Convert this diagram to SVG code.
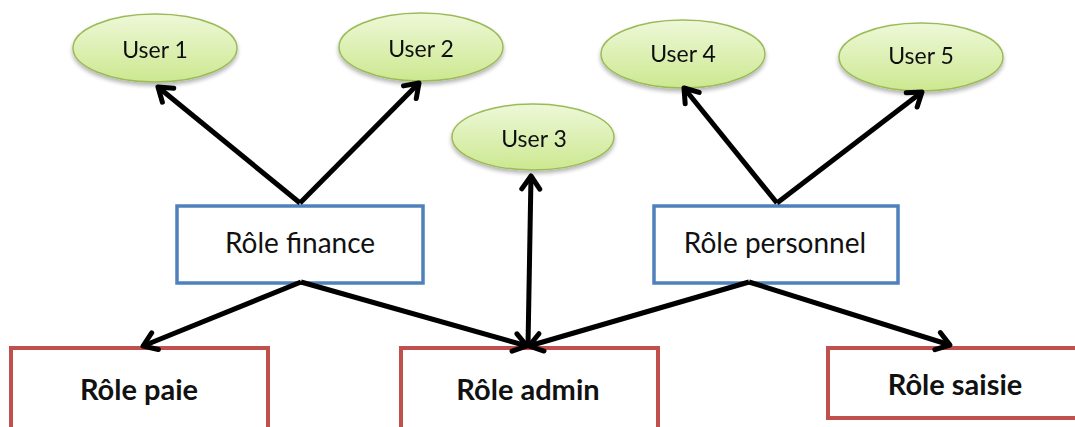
<svg xmlns="http://www.w3.org/2000/svg" width="1075" height="427" viewBox="0 0 1075 427">
<style>
.user ellipse{fill:url(#g);stroke:#9BBB59;stroke-width:1.5}
.ut{font-family:Lato,"Open Sans",sans-serif;font-size:23px;fill:#111;text-anchor:middle}
.blue{fill:#fff;stroke:#4F81BD;stroke-width:3.5}
.red{fill:#fff;stroke:#C0504D;stroke-width:4}
.rt{font-family:Lato,"Open Sans",sans-serif;font-size:28px;fill:#111;text-anchor:middle}
.rb{font-family:Lato,"Open Sans",sans-serif;font-size:29px;font-weight:bold;fill:#111;text-anchor:middle}
.c line{stroke:#000;stroke-width:5;marker-end:url(#a)}
</style>
<defs>
<linearGradient id="g" x1="0" y1="0" x2="0" y2="1">
<stop offset="0" stop-color="#EEF8D8"/>
<stop offset="1" stop-color="#CCE890"/>
</linearGradient>
<filter id="sh" x="-20%" y="-20%" width="140%" height="150%">
<feGaussianBlur in="SourceAlpha" stdDeviation="2"/>
<feOffset dy="3"/>
<feComponentTransfer><feFuncA type="linear" slope="0.3"/></feComponentTransfer>
<feMerge><feMergeNode/><feMergeNode in="SourceGraphic"/></feMerge>
</filter>
<marker id="a" viewBox="-16 -12 19 24" markerWidth="19" markerHeight="24" refX="0" refY="0" orient="auto" markerUnits="userSpaceOnUse">
<path d="M-13,-9 L0,0 L-13,9" fill="none" stroke="#000" stroke-width="5" stroke-linecap="round" stroke-linejoin="round"/>
</marker>
</defs>
<g id="user1" class="user" filter="url(#sh)"><ellipse cx="155" cy="48" rx="82" ry="34"/><text class="ut" x="155" y="58">User 1</text></g>
<g id="user2" class="user" filter="url(#sh)"><ellipse cx="421" cy="47" rx="82" ry="34"/><text class="ut" x="421" y="57">User 2</text></g>
<g id="user3" class="user" filter="url(#sh)"><ellipse cx="533" cy="137" rx="81" ry="33"/><text class="ut" x="534" y="147">User 3</text></g>
<g id="user4" class="user" filter="url(#sh)"><ellipse cx="683" cy="54" rx="82" ry="34"/><text class="ut" x="683" y="62">User 4</text></g>
<g id="user5" class="user" filter="url(#sh)"><ellipse cx="921" cy="57" rx="82" ry="34"/><text class="ut" x="921" y="64">User 5</text></g>
<g id="role-finance"><rect class="blue" x="177" y="206" width="246" height="77"/><text class="rt" x="300" y="253">Rôle finance</text></g>
<g id="role-personnel"><rect class="blue" x="654" y="206" width="244" height="77"/><text class="rt" x="775" y="253">Rôle personnel</text></g>
<g id="role-paie"><rect class="red" x="11" y="348" width="257" height="100"/><text class="rb" x="139" y="400">Rôle paie</text></g>
<g id="role-admin"><rect class="red" x="401" y="348" width="257" height="100"/><text class="rb" x="528" y="400">Rôle admin</text></g>
<g id="role-saisie"><rect class="red" x="828" y="348" width="260" height="70"/><text class="rb" x="955" y="395">Rôle saisie</text></g>
<g id="connectors" class="c">
<line x1="300" y1="203" x2="158" y2="87"/>
<line x1="300" y1="203" x2="419" y2="83"/>
<line x1="777" y1="203" x2="684" y2="88"/>
<line x1="777" y1="203" x2="922" y2="92"/>
<line x1="528" y1="346" x2="531" y2="176"/>
<line x1="301" y1="282" x2="143" y2="346"/>
<line x1="301" y1="282" x2="527" y2="346"/>
<line x1="749" y1="282" x2="529" y2="346"/>
<line x1="749" y1="282" x2="950" y2="345"/>
</g>
</svg>
